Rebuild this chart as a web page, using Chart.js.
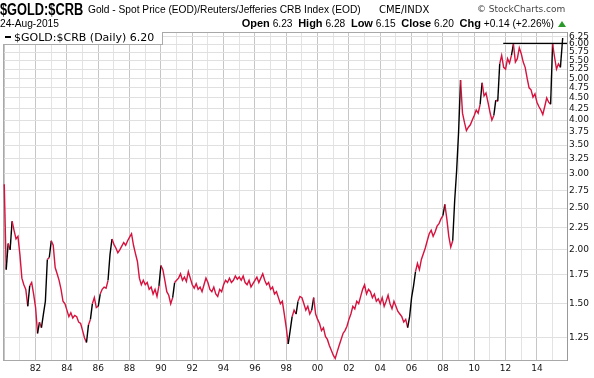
<!DOCTYPE html>
<html>
<head>
<meta charset="utf-8">
<script src="https://cdn.jsdelivr.net/npm/chart.js@4/dist/chart.umd.min.js"></script>
<style>
  html, body { margin: 0; padding: 0; background: #fff; }
  #wrap { position: relative; width: 594px; height: 378px; overflow: hidden; }
  canvas { position: absolute; left: 0; top: 0; }
  .t { position: absolute; white-space: nowrap; color: #000; }
  #sym { left: 0; top: 1px; font: bold 16px "Liberation Sans", Arial, sans-serif; transform: scaleX(0.8); transform-origin: 0 0; }
  #desc { left: 88px; top: 4px; font: 10.2px "Liberation Sans", Arial, sans-serif; }
  #exch { left: 379px; top: 4px; font: 10px "DejaVu Sans", sans-serif; }
  #copy { left: 477px; top: 4px; font: 9px "DejaVu Sans", sans-serif; color: #444; }
  #date { left: 0; top: 18px; font: 10.2px "Liberation Sans", Arial, sans-serif; }
  #ohlc { right: 40px; top: 17px; font: 10.2px "Liberation Sans", Arial, sans-serif; }
  #ohlc b { font-size: 11px; }
  #tri { position: absolute; left: 558px; top: 21px; width: 0; height: 0; border-left: 4px solid transparent; border-right: 4px solid transparent; border-bottom: 6px solid #2a9a2a; }
  #leg { position: absolute; left: 3px; top: 32px; width: 160px; height: 13px; background: #fff; border-right: 1px solid #aaa; border-bottom: 1px solid #aaa; box-sizing: border-box; font: 11px "DejaVu Sans", sans-serif; line-height: 12px; white-space: nowrap; }
  #leg span.dash { display: inline-block; width: 6px; height: 2px; background: #000; vertical-align: middle; margin: 0 3px 2px 2px; }
</style>
</head>
<body>
<div id="wrap">
  <canvas id="c" width="594" height="378"></canvas>
  <div class="t" id="sym">$GOLD:$CRB</div>
  <div class="t" id="desc">Gold - Spot Price (EOD)/Reuters/Jefferies CRB Index (EOD)</div>
  <div class="t" id="exch">CME/INDX</div>
  <div class="t" id="copy">© StockCharts.com</div>
  <div class="t" id="date">24-Aug-2015</div>
  <div class="t" id="ohlc"><b>Open</b> 6.23 &nbsp;<b>High</b> 6.28 &nbsp;<b>Low</b> 6.15 &nbsp;<b>Close</b> 6.20 &nbsp;<b>Chg</b> +0.14 (+2.26%)</div>
  <div id="tri"></div>
  <div id="leg"><span class="dash"></span>$GOLD:$CRB (Daily) 6.20</div>
</div>
<script>
// ---- data: gold / CRB ratio, 8 readings per year from 1980 ----
const startYear = 1980;
const stepsPerYear = 8;
const lastDate = 2015.645;
const ratio = [
  2.84, 1.80, 2.07, 2.00, 2.33, 2.22, 2.12, 2.15,   // 1980
  1.95, 1.72, 1.66, 1.62, 1.48, 1.65, 1.68, 1.58,   // 1981
  1.47, 1.28, 1.36, 1.32, 1.42, 1.52, 1.90, 1.92,   // 1982
  2.10, 2.05, 1.82, 1.76, 1.70, 1.62, 1.52, 1.50,   // 1983
  1.45, 1.40, 1.43, 1.39, 1.41, 1.40, 1.36, 1.35,   // 1984
  1.30, 1.25, 1.22, 1.34, 1.38, 1.50, 1.55, 1.47,   // 1985
  1.48, 1.58, 1.62, 1.64, 1.63, 1.70, 1.95, 2.12,   // 1986
  2.06, 2.02, 1.97, 2.00, 2.04, 2.08, 2.05, 2.10,   // 1987
  2.14, 2.18, 2.05, 1.96, 1.88, 1.72, 1.66, 1.70,   // 1988
  1.66, 1.68, 1.62, 1.64, 1.58, 1.62, 1.56, 1.65,   // 1989
  1.84, 1.80, 1.70, 1.60, 1.57, 1.50, 1.55, 1.68,   // 1990
  1.70, 1.72, 1.76, 1.70, 1.73, 1.69, 1.78, 1.72,   // 1991
  1.66, 1.63, 1.67, 1.62, 1.64, 1.60, 1.66, 1.72,   // 1992
  1.68, 1.62, 1.60, 1.64, 1.58, 1.56, 1.62, 1.60,   // 1993
  1.66, 1.70, 1.68, 1.72, 1.68, 1.70, 1.74, 1.71,   // 1994
  1.73, 1.70, 1.74, 1.68, 1.66, 1.70, 1.64, 1.67,   // 1995
  1.70, 1.73, 1.68, 1.72, 1.76, 1.70, 1.66, 1.68,   // 1996
  1.62, 1.64, 1.58, 1.60, 1.55, 1.50, 1.52, 1.42,   // 1997
  1.32, 1.21, 1.30, 1.40, 1.45, 1.42, 1.52, 1.56,   // 1998
  1.55, 1.50, 1.45, 1.48, 1.42, 1.45, 1.55, 1.42,   // 1999
  1.38, 1.35, 1.30, 1.32, 1.26, 1.24, 1.20, 1.17,   // 2000
  1.14, 1.12, 1.16, 1.20, 1.24, 1.28, 1.30, 1.33,   // 2001
  1.38, 1.42, 1.48, 1.46, 1.52, 1.50, 1.56, 1.62,   // 2002
  1.66, 1.58, 1.62, 1.60, 1.55, 1.58, 1.52, 1.54,   // 2003
  1.50, 1.55, 1.48, 1.52, 1.57, 1.50, 1.46, 1.52,   // 2004
  1.48, 1.44, 1.42, 1.40, 1.36, 1.38, 1.32, 1.40,   // 2005
  1.55, 1.65, 1.78, 1.86, 1.80, 1.90, 1.96, 2.02,   // 2006
  2.10, 2.18, 2.22, 2.15, 2.20, 2.27, 2.30, 2.36,   // 2007
  2.40, 2.55, 2.36, 2.15, 2.03, 2.10, 2.60, 3.05,   // 2008
  3.75, 4.95, 4.15, 3.95, 3.78, 3.85, 3.90, 4.00,   // 2009
  4.10, 4.22, 4.15, 4.35, 4.88, 4.55, 4.62, 4.40,   // 2010
  4.18, 4.00, 4.10, 4.45, 4.42, 5.40, 5.65, 5.30,   // 2011
  5.25, 5.55, 5.42, 5.65, 6.00, 5.45, 5.55, 5.88,   // 2012
  5.70, 5.45, 5.30, 5.00, 4.75, 4.70, 4.52, 4.60,   // 2013
  4.40, 4.30, 4.22, 4.12, 4.30, 4.50, 4.40, 4.35,   // 2014
  6.00, 5.60, 5.25, 5.40, 5.30, 6.20                // 2015
];
const dates = ratio.map((_, i) => i === ratio.length - 1 ? lastDate : startYear + i / stepsPerYear);

// horizontal resistance line drawn on the chart
const resistanceDates = [2011.85, 2015.92];
const resistanceLevel = 6.02;

// tick labels
const yTicks = [1.25, 1.50, 1.75, 2.00, 2.25, 2.50, 2.75, 3.00, 3.25, 3.50, 3.75, 4.00,
                4.25, 4.50, 4.75, 5.00, 5.25, 5.50, 5.75, 6.00, 6.25];
const xYears = [];
for (let y = 1980; y <= 2015; y++) xYears.push(y);

const RED = '#d6123e';

const framePlugin = {
  id: 'frame',
  beforeDatasetsDraw(chart) {
    const a = chart.chartArea, ctx = chart.ctx;
    ctx.save();
    ctx.strokeStyle = '#a8a8a8';
    ctx.lineWidth = 1;
    ctx.beginPath();
    ctx.moveTo(a.left + 0.5, a.top);
    ctx.lineTo(a.left + 0.5, a.bottom);
    ctx.moveTo(a.left, a.top + 0.5);
    ctx.lineTo(a.right, a.top + 0.5);
    ctx.stroke();
    ctx.restore();
  }
};

new Chart(document.getElementById('c'), {
  type: 'line',
  data: {
    datasets: [
      {
        data: dates.map((d, i) => ({ x: d, y: ratio[i] })),
        borderColor: RED,
        borderWidth: 1.4,
        pointRadius: 0,
        tension: 0,
        segment: {
          borderColor: ctx => (ctx.p1.parsed.y > ctx.p0.parsed.y * 1.06 ? '#000' : RED)
        }
      },
      {
        data: resistanceDates.map(d => ({ x: d, y: resistanceLevel })),
        borderColor: '#000',
        borderWidth: 1.3,
        pointRadius: 0
      }
    ]
  },
  options: {
    responsive: false,
    animation: false,
    devicePixelRatio: 1,
    layout: { padding: { left: 3, top: 32, right: 0, bottom: 0 } },
    plugins: { legend: { display: false }, title: { display: false }, tooltip: { enabled: false } },
    scales: {
      x: {
        type: 'linear',
        min: 1979.92,
        max: 2015.92,
        afterBuildTicks: s => { s.ticks = xYears.map(v => ({ value: v })); },
        afterFit: s => { s.height = 18; },
        ticks: {
          autoSkip: false,
          maxRotation: 0,
          padding: 3,
          color: '#111',
          font: { family: 'DejaVu Sans', size: 9 },
          callback: v => (v % 2 === 0 && v >= 1982 ? String(v % 100).padStart(2, '0') : '')
        },
        grid: {
          drawTicks: false,
          color: c => (c.tick && c.tick.value % 2 === 0 ? '#c6c6c6' : '#e3e3e3')
        },
        border: { color: '#a8a8a8' }
      },
      y: {
        type: 'logarithmic',
        position: 'right',
        min: 1.111,
        max: 6.40,
        afterBuildTicks: s => { s.ticks = yTicks.map(v => ({ value: v })); },
        afterFit: s => { s.width = 27; },
        ticks: {
          autoSkip: false,
          padding: 2,
          color: '#111',
          font: { family: 'DejaVu Sans', size: 9 },
          callback: v => Number(v).toFixed(2)
        },
        grid: { drawTicks: false, color: '#e0e0e0' },
        border: { color: '#999' }
      }
    }
  },
  plugins: [framePlugin]
});
</script>
</body>
</html>
